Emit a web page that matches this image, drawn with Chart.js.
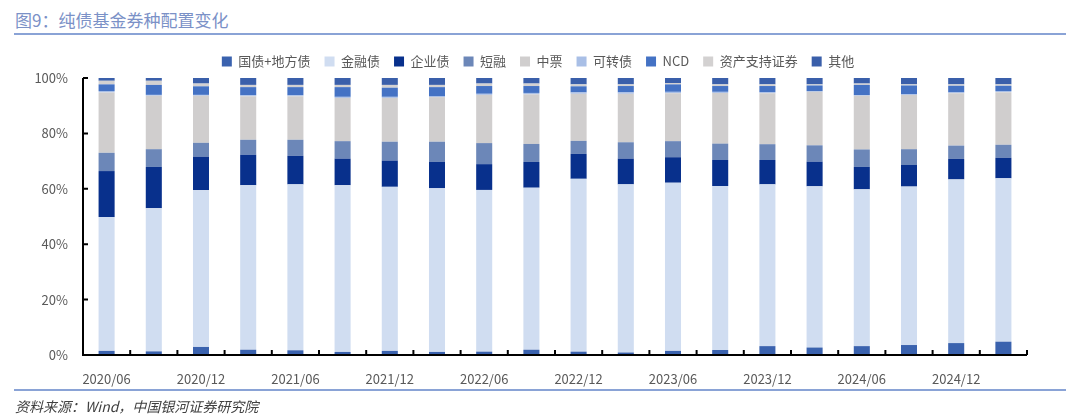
<!DOCTYPE html>
<html>
<head>
<meta charset="utf-8">
<script src="https://cdn.jsdelivr.net/npm/chart.js@4/dist/chart.umd.min.js"></script>
<style>
  html, body { margin: 0; padding: 0; background: #fff; }
  #wrap { position: relative; width: 1080px; height: 420px; overflow: hidden; }
  #chart { position: absolute; left: 0; top: 0; }
  .title { position: absolute; left: 15px; top: 7px; font: 17px "Noto Sans CJK SC", sans-serif; color: #7b91c7; }
  .rule { position: absolute; left: 14px; width: 1052px; height: 2px; background: #8aa3d6; }
  .source { position: absolute; left: 15px; top: 396px; font: italic 14px "Noto Sans CJK SC", sans-serif; color: #404040; }
</style>
</head>
<body>
<div id="wrap">
  <div class="title">图9：纯债基金券种配置变化</div>
  <div class="rule" style="top:33px"></div>
  <canvas id="chart" width="1080" height="420"></canvas>
  <div class="rule" style="top:389px"></div>
  <div class="source">资料来源：Wind，中国银河证券研究院</div>
</div>
<script>
// 季度
const periods = ['2020/06', '2020/09', '2020/12', '2021/03', '2021/06', '2021/09', '2021/12', '2022/03',
    '2022/06', '2022/09', '2022/12', '2023/03', '2023/06', '2023/09', '2023/12', '2024/03',
    '2024/06', '2024/09', '2024/12', '2025/03'];

// 各券种占比（%），自下而上堆叠
const govLocal = [1.5, 1.3, 2.9, 1.9, 1.7, 1.1, 1.5, 1.1, 1.2, 1.9, 1.2, 0.9, 1.5, 1.8, 3.2, 2.7, 3.2, 3.6, 4.3, 4.8];
const financial = [48.3, 51.7, 56.6, 59.4, 59.9, 60.2, 59.2, 59.1, 58.4, 58.5, 62.4, 60.7, 60.7, 59.2, 58.4, 58.2, 56.6, 57.2, 59.1, 59.0];
const corporate = [16.6, 14.9, 12.1, 11.0, 10.3, 9.6, 9.5, 9.5, 9.3, 9.3, 9.0, 9.3, 9.2, 9.4, 8.8, 8.9, 8.1, 7.8, 7.4, 7.4];
const shortTerm = [6.6, 6.4, 5.0, 5.4, 5.8, 6.3, 6.8, 7.3, 7.6, 6.5, 4.7, 5.9, 5.8, 5.9, 5.7, 5.9, 6.3, 5.7, 4.8, 4.7];
const mtn = [21.8, 19.3, 17.0, 15.7, 15.7, 15.6, 15.8, 16.1, 17.4, 17.9, 17.0, 17.5, 17.3, 18.3, 18.4, 19.3, 19.4, 19.6, 18.9, 19.0];
const convertible = [0.5, 0.3, 0.3, 0.4, 0.4, 0.4, 0.4, 0.4, 0.4, 0.5, 0.5, 0.5, 0.5, 0.4, 0.4, 0.3, 0.2, 0.2, 0.3, 0.4];
const ncd = [2.4, 3.6, 3.1, 2.9, 2.9, 3.5, 3.3, 3.2, 2.8, 2.5, 2.2, 2.3, 2.7, 2.1, 2.2, 2.0, 3.7, 3.2, 2.4, 1.9];
const abs = [1.3, 1.5, 1.0, 0.8, 0.8, 0.8, 1.0, 0.8, 0.9, 0.9, 0.7, 0.6, 0.5, 0.6, 0.6, 0.4, 0.5, 0.4, 0.5, 0.5];
const others = [1.0, 1.0, 2.0, 2.5, 2.5, 2.5, 2.5, 2.5, 2.0, 2.0, 2.3, 2.3, 1.8, 2.3, 2.3, 2.3, 2.0, 2.3, 2.3, 2.3];

const yTicks = [0, 20, 40, 60, 80, 100];

const series = [
    { label: '国债+地方债', data: govLocal, color: '#3a62ae' },
    { label: '金融债', data: financial, color: '#d0ddf1' },
    { label: '企业债', data: corporate, color: '#08308c' },
    { label: '短融', data: shortTerm, color: '#6c87b8' },
    { label: '中票', data: mtn, color: '#d0cece' },
    { label: '可转债', data: convertible, color: '#a9bfe6' },
    { label: 'NCD', data: ncd, color: '#4472c4' },
    { label: '资产支持证券', data: abs, color: '#d3d1d1' },
    { label: '其他', data: others, color: '#3a5faa' }
];

const font = { family: '"Noto Sans CJK SC", sans-serif', size: 13 };

// 图例整体右移，使其居中于 538 附近
const legendShift = {
    id: 'legendShift',
    afterLayout(chart) {
        chart.legend.left += 49;
    }
};

// 坐标轴线和朝内的刻度线
const axisLines = {
    id: 'axisLines',
    afterDraw(chart) {
        const { ctx, chartArea: a, scales: { x, y } } = chart;
        ctx.save();
        ctx.strokeStyle = '#000000';
        ctx.lineWidth = 2;
        ctx.beginPath();
        ctx.moveTo(a.left, a.top);
        ctx.lineTo(a.left, a.bottom);
        ctx.lineTo(a.right, a.bottom);
        yTicks.forEach(v => {
            const py = y.getPixelForValue(v);
            ctx.moveTo(a.left, py);
            ctx.lineTo(a.left + 5, py);
        });
        for (let i = 0; i <= periods.length; i++) {
            const px = x.getPixelForValue(i - 0.5);
            ctx.moveTo(px, a.bottom);
            ctx.lineTo(px, a.bottom - 5);
        }
        ctx.stroke();
        ctx.restore();
    }
};

new Chart(document.getElementById('chart'), {
    type: 'bar',
    data: {
        labels: periods,
        datasets: series.map(s => ({
            label: s.label,
            data: s.data,
            backgroundColor: s.color,
            borderWidth: 0,
            categoryPercentage: 1,
            barPercentage: 0.34
        }))
    },
    plugins: [legendShift, axisLines],
    options: {
        responsive: false,
        animation: false,
        layout: { padding: { top: 41, left: 0, right: 53, bottom: 29 } },
        plugins: {
            legend: {
                position: 'top',
                labels: {
                    boxWidth: 10,
                    boxHeight: 10,
                    padding: 14,
                    color: '#595959',
                    font: font
                }
            },
            tooltip: { enabled: false }
        },
        scales: {
            x: {
                stacked: true,
                afterFit: scale => { scale.height = 36; },
                border: { display: false },
                grid: { display: false, drawTicks: false },
                ticks: {
                    autoSkip: false,
                    maxRotation: 0,
                    padding: 16,
                    color: '#595959',
                    font: font,
                    callback: (v, i) => i % 2 === 0 ? periods[i] : ''
                }
            },
            y: {
                stacked: true,
                min: 0,
                max: 100,
                afterFit: scale => { scale.width = 83; },
                afterBuildTicks: scale => { scale.ticks = yTicks.map(v => ({ value: v })); },
                border: { display: false },
                grid: { display: false, drawTicks: false },
                ticks: {
                    padding: 15,
                    color: '#595959',
                    font: font,
                    callback: v => v + '%'
                }
            }
        }
    }
});
</script>
</body>
</html>
